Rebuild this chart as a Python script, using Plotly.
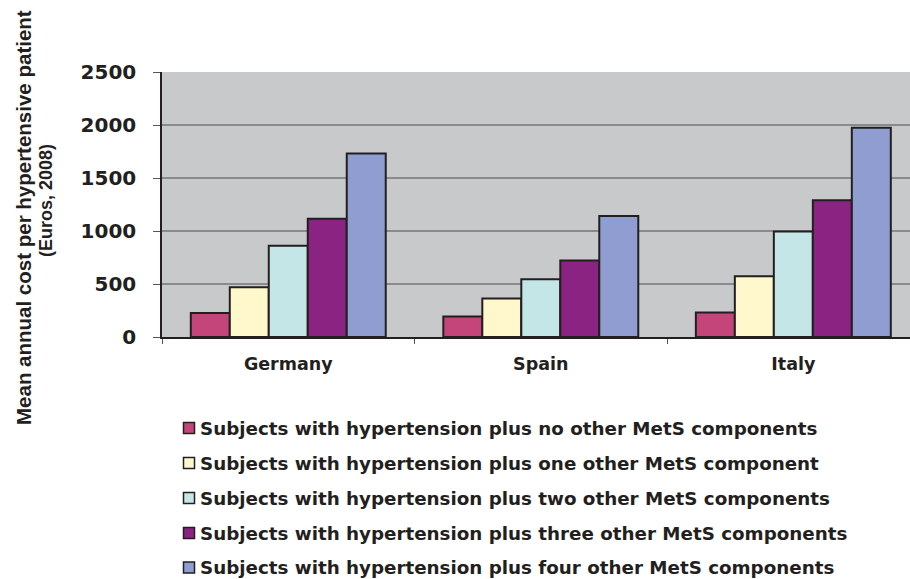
import plotly.graph_objects as go

countries = ["Germany", "Spain", "Italy"]
series_names = [
    "Subjects with hypertension plus no other MetS components",
    "Subjects with hypertension plus one other MetS component",
    "Subjects with hypertension plus two other MetS components",
    "Subjects with hypertension plus three other MetS components",
    "Subjects with hypertension plus four other MetS components",
]
no_other = [227, 193, 230]
one_other = [470, 363, 574]
two_other = [860, 545, 996]
three_other = [1115, 722, 1289]
four_other = [1730, 1141, 1975]
series_values = [no_other, one_other, two_other, three_other, four_other]
colors = ["#C4457A", "#FFF8CC", "#C5E6E6", "#8B2383", "#8F9DD1"]
y_ticks = [0, 500, 1000, 1500, 2000, 2500]

W, H = 910, 579
L, T, B = 162, 72, 242
plot_w = W - L
plot_h = H - T - B
ink = "#231F20"
wide_bold = "DejaVu Sans, sans-serif"
arial_like = "Liberation Sans, Arial, sans-serif"


def px_x(px):
    return (px - L) / plot_w


def px_y(py):
    return (H - B - py) / plot_h


fig = go.Figure()
for name, vals, col in zip(series_names, series_values, colors):
    fig.add_trace(go.Bar(
        x=countries, y=vals, name=name,
        marker=dict(color=col, line=dict(color=ink, width=2)),
    ))

fig.update_layout(
    width=W, height=H,
    margin=dict(l=L, r=0, t=T, b=B),
    paper_bgcolor="white",
    plot_bgcolor="#C8C9CB",
    barmode="group",
    bargap=0.228,
    bargroupgap=0,
    showlegend=False,
    font=dict(family=wide_bold, color=ink),
    xaxis=dict(
        range=[-0.5, 2.462],
        tickvals=countries,
        ticktext=[f"<b>{c}</b>" for c in countries],
        tickson="boundaries",
        ticks="outside", ticklen=5, tickcolor="#555",
        showline=True, linecolor=ink, linewidth=1.5,
        tickfont=dict(size=17.5, family=wide_bold, color=ink),
        ticklabelstandoff=10,
    ),
    yaxis=dict(
        range=[0, 2500],
        tickvals=y_ticks,
        ticktext=[f"<b>{v}</b>" for v in y_ticks],
        ticks="outside", ticklen=7, tickcolor="#555",
        showline=True, linecolor=ink, linewidth=1.5,
        showgrid=True, gridcolor="#8A8A8A", gridwidth=1.5,
        tickfont=dict(size=20, family=wide_bold, color=ink),
        ticklabelstandoff=13,
        zeroline=False,
    ),
)

# Rotated two-line axis title
fig.add_annotation(
    xref="paper", yref="paper", x=px_x(23), y=px_y(218),
    text="<b>Mean annual cost per hypertensive patient</b>",
    textangle=-90, showarrow=False,
    font=dict(size=20.5, family=arial_like, color=ink),
    xanchor="center", yanchor="middle",
)
fig.add_annotation(
    xref="paper", yref="paper", x=px_x(46), y=px_y(201),
    text="<b>(Euros, 2008)</b>",
    textangle=-90, showarrow=False,
    font=dict(size=18, family=arial_like, color=ink),
    xanchor="center", yanchor="middle",
)

# Legend: colour keys with labels, one row per series
row_centers = [428, 463, 498, 533, 567.5]
for name, col, cy in zip(series_names, colors, row_centers):
    fig.add_shape(
        type="rect", xref="paper", yref="paper",
        x0=px_x(183.5), x1=px_x(194.5), y0=px_y(cy - 5.5), y1=px_y(cy + 5.5),
        fillcolor=col, line=dict(color=ink, width=1.5),
    )
    fig.add_annotation(
        xref="paper", yref="paper", x=px_x(198), y=px_y(cy),
        text=f"<b>{name}</b>", showarrow=False,
        xanchor="left", yanchor="middle",
        font=dict(size=18.3, family=wide_bold, color=ink),
    )

fig.write_html("out.html")
